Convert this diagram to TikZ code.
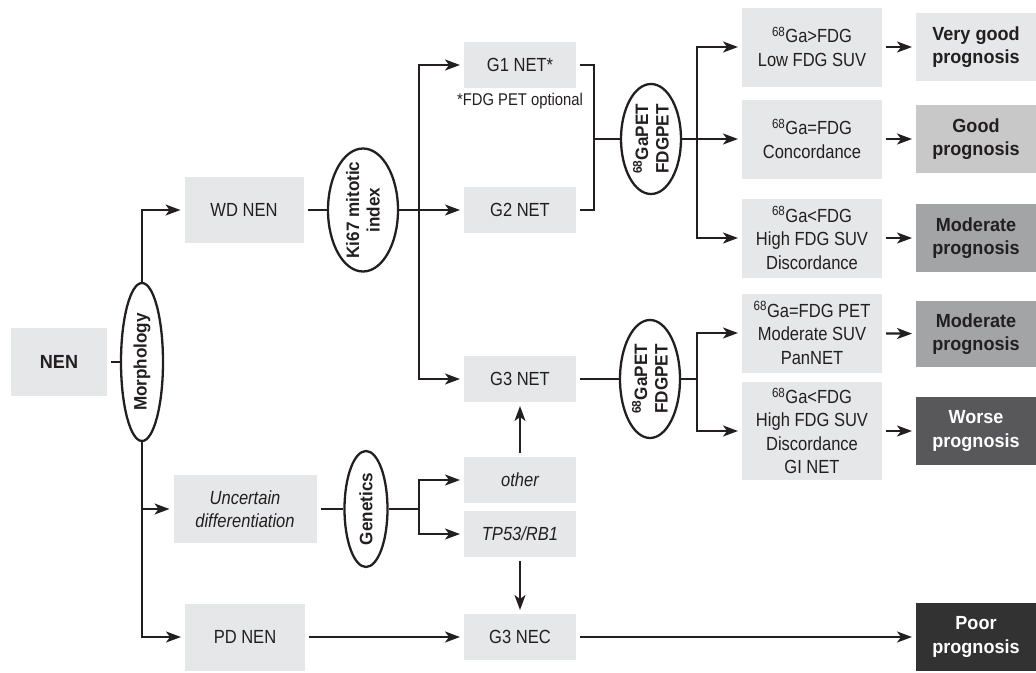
\documentclass[tikz,border=0pt]{standalone}
\usepackage{fontspec}
\setmainfont{Liberation Sans}[FakeStretch=0.87, BoldFeatures={FakeStretch=0.95}]
\usepackage{xcolor}
\usetikzlibrary{shapes,arrows.meta}

\definecolor{ink}{HTML}{231F20}
\definecolor{boxgray}{HTML}{E6E7E8}
\definecolor{goodgray}{HTML}{C8C8C9}
\definecolor{modgray}{HTML}{A3A4A6}
\definecolor{worsegray}{HTML}{58585A}
\definecolor{poorgray}{HTML}{333233}

\begin{document}
\begin{tikzpicture}[x=1pt, y=-1pt, >={Stealth[length=15pt,width=11pt,inset=4pt]},
    line width=2.1pt, draw=ink,
    font=\fontsize{19}{23.5}\selectfont,
    block/.style={
            rectangle,
            fill=boxgray,
            text=ink,
            align=center,
            inner sep=0pt,
            outer sep=4pt
        },
        grade/.style={block, minimum width=112pt, minimum height=46pt},
        finding/.style={block, minimum width=140pt, minimum height=79pt},
        outcome/.style={block, minimum width=120pt, minimum height=68pt,
            font=\fontsize{19}{23.5}\selectfont\bfseries},
        oval/.style={
            draw=ink,
            line width=2.3pt,
            ellipse,
            rotate=90,
            inner sep=-8pt,
            align=center,
            text=ink,
            font=\fontsize{18}{20.5}\selectfont\bfseries
        },
        split/.style={coordinate}
]
    \useasboundingbox (0,0) rectangle (1036,672);

    % left part
    \node [block, minimum width=96pt, minimum height=68pt, font=\fontsize{19}{23.5}\selectfont\bfseries] (nen) at (59,362) {NEN};
    \node [oval, minimum width=158pt, minimum height=42pt] (morph) at (142,362) {Morphology};
    \node [block, minimum width=119pt, minimum height=66pt] (wdnen) at (244,210) {WD NEN};
    \node [block, minimum width=143pt, minimum height=68pt, font=\fontsize{19}{23.5}\selectfont\itshape] (unc) at (245,509) {Uncertain\\differentiation};
    \node [block, minimum width=120pt, minimum height=67pt] (pdnen) at (245,637) {PD NEN};

    \draw (nen) -- (morph);
    \draw [->] (morph.east) |- (wdnen);
    \draw [->] (morph.west) |- (unc);
    \draw [->] (morph.west) |- (pdnen);

    % grading
    \node [oval, minimum width=123pt, minimum height=70pt] (ki67) at (363,210) {Ki67 mitotic\\index};
    \node [split] (kisplit) at (419,210) {};
    \node [grade] (g1) at (520,65) {G1 NET*};
    \node [text=ink, font=\fontsize{17}{20}\selectfont] (g1note) at (520,101) {*FDG PET optional};
    \node [grade] (g2) at (520,210) {G2 NET};
    \node [grade] (g3) at (520,379) {G3 NET};

    \draw (wdnen) -- (ki67);
    \draw (ki67) -- (kisplit);
    \draw [->] (kisplit) |- (g1);
    \draw [->] (kisplit) -- (g2);
    \draw [->] (kisplit) |- (g3);

    % genetics
    \node [oval, minimum width=116pt, minimum height=43pt] (genetics) at (366,509) {Genetics};
    \node [split] (gsplit) at (419,509) {};
    \node [grade, font=\fontsize{19}{23.5}\selectfont\itshape] (other) at (520,480) {other};
    \node [grade, font=\fontsize{19}{23.5}\selectfont\itshape] (tp53) at (520,534) {TP53/RB1};
    \node [grade] (g3nec) at (520,637) {G3 NEC};

    \draw (unc) -- (genetics);
    \draw (genetics) -- (gsplit);
    \draw [->] (gsplit) |- (other);
    \draw [->] (gsplit) |- (tp53);
    \draw [->] (other) -- (g3);
    \draw [->] (tp53) -- (g3nec);
    \draw [->] (pdnen) -- (g3nec);

    % PET, G1/G2
    \node [split] (gjoin) at (594,139) {};
    \node [oval, minimum width=110pt, minimum height=60pt] (gaup) at (651,139) {\textsuperscript{68}GaPET\\FDGPET};
    \node [split] (usplit) at (697,139) {};
    \node [finding] (r1) at (812,47) {\textsuperscript{68}Ga>FDG\\Low FDG SUV};
    \node [finding] (r2) at (812,139) {\textsuperscript{68}Ga=FDG\\Concordance};
    \node [finding] (r3) at (812,238) {\textsuperscript{68}Ga<FDG\\High FDG SUV\\Discordance};
    \node [outcome] (p1) at (976,47) {Very good\\prognosis};
    \node [outcome, fill=goodgray] (p2) at (976,139) {Good\\prognosis};
    \node [outcome, fill=modgray] (p3) at (976,238) {Moderate\\prognosis};

    \draw (g1) -| (gjoin);
    \draw (g2) -| (gjoin);
    \draw (gjoin) -- (gaup);
    \draw (gaup) -- (usplit);
    \draw [->] (usplit) |- (r1);
    \draw [->] (usplit) -- (r2);
    \draw [->] (usplit) |- (r3);
    \draw [->] (r1) -- (p1);
    \draw [->] (r2) -- (p2);
    \draw [->] (r3) -- (p3);

    % PET, G3
    \node [oval, minimum width=118pt, minimum height=60pt] (galow) at (650,379) {\textsuperscript{68}GaPET\\FDGPET};
    \node [split] (lsplit) at (697,379) {};
    \node [finding] (r4) at (812,333) {\textsuperscript{68}Ga=FDG PET\\Moderate SUV\\PanNET};
    \node [finding, minimum height=98pt] (r5) at (812,431) {\textsuperscript{68}Ga<FDG\\High FDG SUV\\Discordance\\GI NET};
    \node [outcome, minimum height=66pt, fill=modgray] (p4) at (976,334) {Moderate\\prognosis};
    \node [outcome, fill=worsegray, text=white] (p5) at (976,431) {Worse\\prognosis};
    \node [outcome, fill=poorgray, text=white] (poor) at (976,637) {Poor\\prognosis};

    \draw (g3) -- (galow);
    \draw (galow) -- (lsplit);
    \draw [->] (lsplit) |- (r4);
    \draw [->] (lsplit) |- (r5);
    \draw [->] (r4) -- (p4);
    \draw [->] (r5) -- (p5);
    \draw [->] (g3nec) -- (poor);
\end{tikzpicture}
\end{document}
